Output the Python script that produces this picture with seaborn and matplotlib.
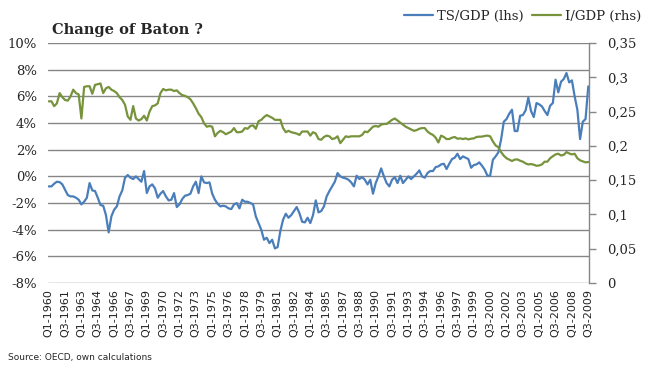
import numpy as np
import pandas as pd
import matplotlib
matplotlib.use('Agg')
import matplotlib.pyplot as plt
import seaborn as sns

# TS/GDP in percent (left axis), quarterly Q1-1960 .. Q3-2009
ts_gdp = [
    -0.75, -0.75, -0.55, -0.4, -0.43, -0.6, -1.0, -1.4, -1.5, -1.5,
    -1.6, -1.75, -2.1, -1.9, -1.6, -0.5, -1.05, -1.1, -1.6, -2.15,
    -2.2, -2.9, -4.2, -3.0, -2.5, -2.25, -1.5, -1.05, -0.1, 0.1,
    -0.1, -0.2, 0.0, -0.2, -0.4, 0.4, -1.25, -0.75, -0.6, -0.9,
    -1.6, -1.3, -1.1, -1.5, -1.8, -1.75, -1.25, -2.3, -2.1, -1.7,
    -1.45, -1.4, -1.3, -0.75, -0.4, -1.25, 0.0, -0.45, -0.5, -0.45,
    -1.3, -1.75, -2.05, -2.25, -2.2, -2.25, -2.4, -2.45, -2.1, -2.0,
    -2.4, -1.75, -1.9, -1.9, -2.0, -2.1, -3.0, -3.5, -4.0, -4.75,
    -4.6, -5.0, -4.75, -5.4, -5.3, -4.1, -3.25, -2.8, -3.1, -2.9,
    -2.6, -2.3, -2.75, -3.4, -3.45, -3.1, -3.5, -2.9, -1.8, -2.7,
    -2.6, -2.25, -1.5, -1.1, -0.75, -0.4, 0.25, 0.0, -0.1, -0.15,
    -0.25, -0.45, -0.75, 0.05, -0.2, -0.05, -0.25, -0.6, -0.25, -1.3,
    -0.5, 0.0, 0.6, 0.0, -0.5, -0.75, -0.25, -0.05, -0.5, 0.05,
    -0.5, -0.25, 0.0, -0.2, 0.0, 0.2, 0.45, 0.0, -0.1, 0.25,
    0.4, 0.4, 0.7, 0.75, 0.9, 0.95, 0.55, 0.95, 1.3, 1.4,
    1.7, 1.3, 1.5, 1.4, 1.3, 0.65, 0.85, 0.9, 1.05, 0.8,
    0.5, 0.05, 0.05, 1.25, 1.5, 1.8, 2.75, 4.1, 4.3, 4.7,
    5.0, 3.4, 3.4, 4.55, 4.6, 4.95, 5.9, 4.9, 4.45, 5.5,
    5.4, 5.25, 4.9, 4.6, 5.3, 5.5, 7.25, 6.3, 7.1, 7.3,
    7.75, 7.05, 7.2, 6.0, 5.0, 2.8, 4.1, 4.3, 6.75,
]

# I/GDP ratio (right axis)
i_gdp = [
    0.265, 0.265, 0.258, 0.262, 0.277, 0.271, 0.267, 0.266, 0.272, 0.282,
    0.277, 0.275, 0.240, 0.286, 0.287, 0.287, 0.276, 0.289, 0.290, 0.291,
    0.277, 0.284, 0.286, 0.282, 0.280, 0.277, 0.271, 0.267, 0.260, 0.243,
    0.238, 0.258, 0.240, 0.237, 0.239, 0.244, 0.237, 0.250, 0.258, 0.259,
    0.262, 0.277, 0.283, 0.281, 0.282, 0.282, 0.280, 0.281, 0.277, 0.274,
    0.273, 0.271, 0.268, 0.262, 0.255, 0.247, 0.242, 0.233, 0.228, 0.229,
    0.228, 0.214, 0.219, 0.222, 0.220, 0.217, 0.219, 0.221, 0.226, 0.220,
    0.220, 0.221, 0.226, 0.225, 0.229, 0.230, 0.225, 0.236, 0.238, 0.242,
    0.245, 0.243, 0.241, 0.238, 0.238, 0.238, 0.226, 0.220, 0.222, 0.220,
    0.219, 0.218, 0.216, 0.221, 0.221, 0.221, 0.215, 0.220, 0.218, 0.210,
    0.209, 0.213, 0.215, 0.214, 0.210, 0.211, 0.214, 0.204, 0.209, 0.214,
    0.213, 0.214, 0.214, 0.214, 0.214, 0.216, 0.221, 0.220, 0.224, 0.228,
    0.229, 0.228, 0.231, 0.232, 0.232, 0.235, 0.238, 0.240, 0.237, 0.234,
    0.231, 0.228, 0.226, 0.224, 0.222, 0.223, 0.225, 0.226, 0.226, 0.221,
    0.218, 0.216, 0.212, 0.205, 0.215, 0.213, 0.210, 0.210, 0.212, 0.213,
    0.2105, 0.211, 0.210, 0.211, 0.2095, 0.2105, 0.211, 0.213, 0.2135, 0.2135,
    0.2145, 0.215, 0.214, 0.2065, 0.2007, 0.198, 0.191, 0.1857, 0.182, 0.180,
    0.178, 0.180, 0.1803, 0.1784, 0.177, 0.1745, 0.173, 0.1735, 0.1726, 0.171,
    0.1715, 0.173, 0.177, 0.177, 0.182, 0.185, 0.1876, 0.1886, 0.186, 0.187,
    0.191, 0.189, 0.1876, 0.1886, 0.182, 0.179, 0.1774, 0.176, 0.1765,
]

# every 6th quarter gets a label
tick_labels = [
    'Q1-1960', 'Q3-1961', 'Q1-1963', 'Q3-1964', 'Q1-1966', 'Q3-1967',
    'Q1-1969', 'Q3-1970', 'Q1-1972', 'Q3-1973', 'Q1-1975', 'Q3-1976',
    'Q1-1978', 'Q3-1979', 'Q1-1981', 'Q3-1982', 'Q1-1984', 'Q3-1985',
    'Q1-1987', 'Q3-1988', 'Q1-1990', 'Q3-1991', 'Q1-1993', 'Q3-1994',
    'Q1-1996', 'Q3-1997', 'Q1-1999', 'Q3-2000', 'Q1-2002', 'Q3-2003',
    'Q1-2005', 'Q3-2006', 'Q1-2008', 'Q3-2009',
]
left_ticks = [10, 8, 6, 4, 2, 0, -2, -4, -6, -8]
right_ticks = [0, 0.05, 0.1, 0.15, 0.2, 0.25, 0.3, 0.35]
right_labels = ['0', '0,05', '0,1', '0,15', '0,2', '0,25', '0,3', '0,35']

df = pd.DataFrame({'q': np.arange(len(ts_gdp)), 'ts': ts_gdp, 'inv': i_gdp})

blue = '#4A7EBB'
green = '#77933C'
grid_c = '#868686'

sns.set_style('white')
plt.rcParams['font.family'] = ['DejaVu Serif']

fig = plt.figure(figsize=(6.56, 3.71), dpi=100)
ax1 = fig.add_axes([0.073, 0.237, 0.825, 0.647])
ax2 = ax1.twinx()

sns.lineplot(data=df, x='q', y='ts', color=blue, lw=1.6, ax=ax1, label='TS/GDP (lhs)', legend=False)
sns.lineplot(data=df, x='q', y='inv', color=green, lw=1.6, ax=ax2, label='I/GDP (rhs)', legend=False)

ax1.set_xlim(-0.3, len(ts_gdp) - 0.7)
ax1.set_ylim(-8, 10)
ax2.set_ylim(0, 0.35)

ax1.set_yticks(left_ticks)
ax1.set_yticklabels([f'{t}%' for t in left_ticks], fontsize=9.5)
ax1.yaxis.grid(True, color=grid_c, lw=1)
ax1.tick_params(axis='y', length=0, pad=8)

ax2.set_yticks(right_ticks)
ax2.set_yticklabels(right_labels, fontsize=9.5)
ax2.tick_params(axis='y', length=5, width=1, color=grid_c, direction='out', pad=8)
ax2.grid(False)

ax1.set_xticks(np.arange(0, len(ts_gdp), 6))
ax1.set_xticklabels(tick_labels, rotation=90, fontsize=8, family='DejaVu Sans', color='#222222')
ax1.tick_params(axis='x', length=0, pad=4)

ax1.set_xlabel('')
ax1.set_ylabel('')
ax2.set_ylabel('')

for ax in (ax1, ax2):
    for side in ('top', 'left', 'bottom', 'right'):
        ax.spines[side].set_visible(False)
ax2.spines['right'].set_visible(True)
ax2.spines['right'].set_color(grid_c)
ax2.spines['right'].set_linewidth(1)
ax1.set_zorder(ax2.get_zorder() - 1)
ax2.patch.set_visible(False)

fig.text(0.08, 0.918, 'Change of Baton ?', fontsize=10.5, fontweight='bold', va='center')
fig.text(0.012, 0.037, 'Source: OECD, own calculations', fontsize=6.5, family='DejaVu Sans', va='center')

h1, l1 = ax1.get_legend_handles_labels()
h2, l2 = ax2.get_legend_handles_labels()
fig.legend(h1 + h2, l1 + l2, loc='upper right', bbox_to_anchor=(0.995, 1.005), ncol=2,
           frameon=False, fontsize=9.5, handlelength=2.2, handletextpad=0.3, columnspacing=0.6)

plt.savefig('out.png', dpi=100)
